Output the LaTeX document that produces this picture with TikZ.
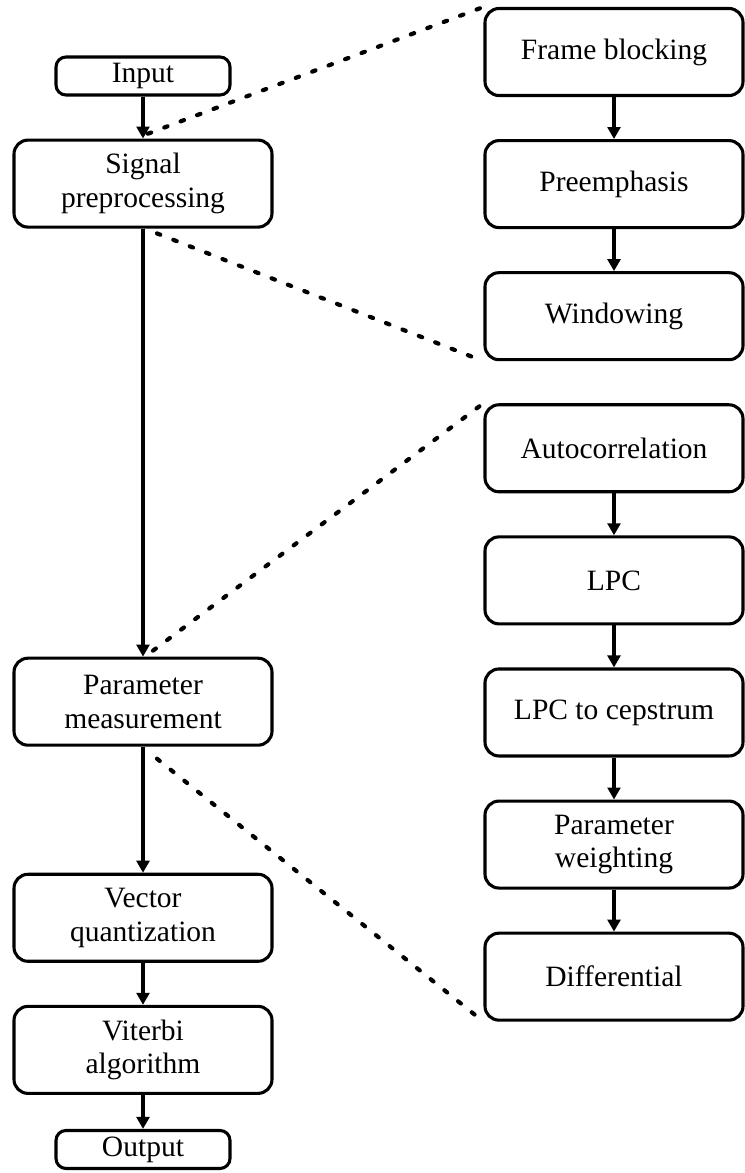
\documentclass[tikz,border=0pt]{standalone}
\usepackage{fontspec}
\setmainfont{Liberation Serif}
\usepackage{tikz}
\usetikzlibrary{arrows.meta, positioning, calc}
\tikzset{
	blk/.style={rectangle, rounded corners=0.35cm, draw=black, line width=2.2pt, minimum width=6.45cm, minimum height=2.175cm, text centered, align=center, inner sep=2pt},
	smallblk/.style={blk, rounded corners=0.25cm, minimum width=4.35cm, minimum height=0.95cm},
	flowarrow/.style={-{Triangle[length=0.3cm, width=0.32cm]}, line width=2.2pt},
	% dotted zoom-out lines
	zoomline/.style={line width=3pt, line cap=round, dash pattern=on 2.5pt off 10pt},
}
\begin{document}
\begin{tikzpicture}[font=\fontsize{21}{24}\selectfont]
	\useasboundingbox (0,0) rectangle (18.625,-29.325);
	% main chain
	\node[smallblk] (inp) at (3.575,-1.9) {Input};
	\node[blk, below=1.05cm of inp] (sig) {Signal\\preprocessing};
	\node[blk, below=10.7cm of sig] (par) {Parameter\\measurement};
	\node[blk, below=3.15cm of par] (vq) {Vector\\quantization};
	\node[blk, below=1.05cm of vq] (vit) {Viterbi\\algorithm};
	\node[smallblk, below=0.85cm of vit] (out) {Output};
	% details
	\node[blk] (fb) at (15.35,-1.3) {Frame blocking};
	\node[blk, below=1.05cm of fb] (pre) {Preemphasis};
	\node[blk, below=1.05cm of pre] (win) {Windowing};
	\node[blk, below=1.05cm of win] (ac) {Autocorrelation};
	\node[blk, below=1.05cm of ac] (lpc) {LPC};
	\node[blk, below=1.05cm of lpc] (cep) {LPC to cepstrum};
	\node[blk, below=1.05cm of cep] (pw) {Parameter\\weighting};
	\node[blk, below=1.05cm of pw] (dif) {Differential};
	\foreach \a/\b in {inp/sig, sig/par, par/vq, vq/vit, vit/out, fb/pre, pre/win, ac/lpc, lpc/cep, cep/pw, pw/dif}
		\draw[flowarrow] (\a) -- (\b);
	% zoom lines
	\coordinate (s1) at ($(sig.north)+(0.12,0.12)$);
	\coordinate (s2) at ($(sig.south)+(0.35,-0.12)$);
	\coordinate (p1) at ($(par.north)+(0.25,0.15)$);
	\coordinate (p2) at ($(par.south)+(0.35,-0.3)$);
	\draw[zoomline] (s1) -- (fb.north west);
	\draw[zoomline] (s2) -- (win.south west);
	\draw[zoomline] (p1) -- (ac.north west);
	\draw[zoomline] (p2) -- (dif.south west);
\end{tikzpicture}
\end{document}
